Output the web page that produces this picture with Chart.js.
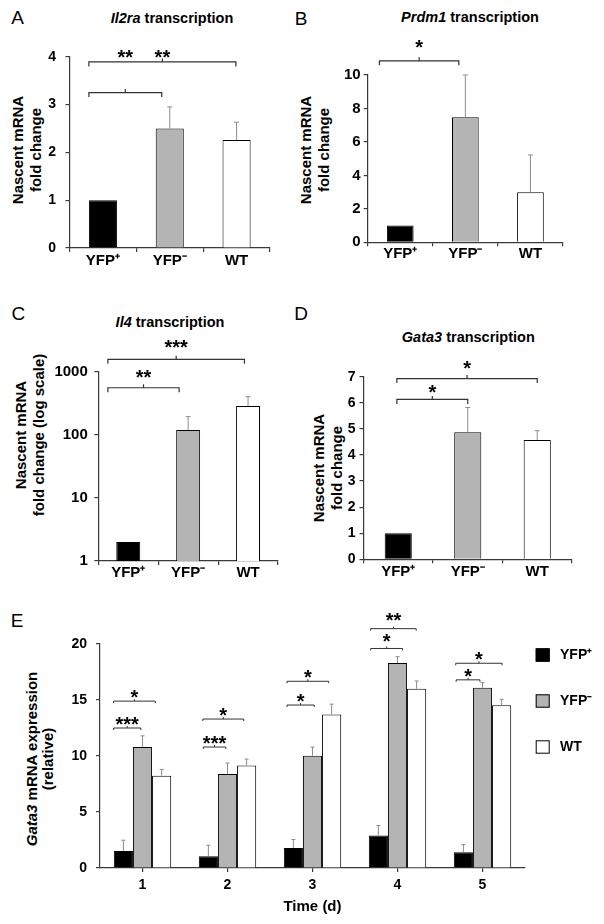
<!DOCTYPE html>
<html>
<head>
<meta charset="utf-8">
<script src="https://cdn.jsdelivr.net/npm/chart.js@4.4.1/dist/chart.umd.min.js"></script>
<style>
  body { margin: 0; background: #fff; }
  #page { position: relative; width: 604px; height: 924px; overflow: hidden; font-family: "Liberation Sans", Arial, sans-serif; color: #000; }
  canvas { position: absolute; }
  .let { position: absolute; font-size: 19px; line-height: 1; transform: translate(-50%, -50%); }
  .ttl { position: absolute; font-size: 14.5px; font-weight: bold; line-height: 1; white-space: nowrap; transform: translate(-50%, -50%); }
  .yt { position: absolute; font-size: 15px; font-weight: bold; line-height: 18px; text-align: center; white-space: nowrap; transform: translate(-50%, -50%) rotate(-90deg); }
</style>
</head>
<body>
<div id="page">
  <div class="let" style="left:17.5px;top:17px">A</div>
  <div class="let" style="left:301px;top:17.5px">B</div>
  <div class="let" style="left:18.3px;top:312.5px">C</div>
  <div class="let" style="left:301px;top:312.5px">D</div>
  <div class="let" style="left:17px;top:620px">E</div>

  <div class="ttl" style="left:172px;top:17.7px"><i>Il2ra</i> transcription</div>
  <div class="ttl" style="left:470px;top:16.7px"><i>Prdm1</i> transcription</div>
  <div class="ttl" style="left:170px;top:321.7px"><i>Il4</i> transcription</div>
  <div class="ttl" style="left:468.3px;top:336.7px"><i>Gata3</i> transcription</div>

  <div class="yt" style="left:26.5px;top:150px">Nascent mRNA<br>fold change</div>
  <div class="yt" style="left:314.5px;top:150px">Nascent mRNA<br>fold change</div>
  <div class="yt" style="left:29.5px;top:435px">Nascent mRNA<br>fold change (log scale)</div>
  <div class="yt" style="left:328px;top:468px">Nascent mRNA<br>fold change</div>
  <div class="yt" style="left:40px;top:759px;line-height:16px"><i>Gata3</i> mRNA expression<br>(relative)</div>

  <canvas id="cA"></canvas>
  <canvas id="cB"></canvas>
  <canvas id="cC"></canvas>
  <canvas id="cD"></canvas>
  <canvas id="cE"></canvas>
</div>
<script>
Chart.defaults.font.family = '"Liberation Sans", Arial, sans-serif';
Chart.defaults.color = '#000';

// categories
const groups = ['YFP⁺', 'YFP⁻', 'WT'];
const groupFill = ['#000000', '#b4b4b4', '#ffffff'];
const days = ['1', '2', '3', '4', '5'];

// A: Il2ra
const il2raMean = [1.0, 2.5, 2.26];
const il2raErr = [0, 0.45, 0.37];
const il2raTicks = [0, 1, 2, 3, 4];
const il2raBrackets = [[-0.21, 1.99, 3.89, '**', 4.08], [-0.21, 0.88, 3.25, '**', 4.08]];

// B: Prdm1
const prdm1Mean = [1.0, 7.47, 2.99];
const prdm1Err = [0, 2.53, 2.23];
const prdm1Ticks = [0, 2, 4, 6, 8, 10];
const prdm1Brackets = [[-0.32, 0.9, 10.85, '*', 11.9]];

// C: Il4 (log scale)
const il4Mean = [2, 119, 286];
const il4Err = [0, 75, 116];
const il4Ticks = [1, 10, 100, 1000];
const il4Brackets = [[-0.34, 1.94, 1572, '***', 2818], [-0.34, 0.85, 557, '**', 964]];

// D: Gata3
const gata3Mean = [1.0, 4.87, 4.57];
const gata3Err = [0, 0.95, 0.36];
const gata3Ticks = [0, 1, 2, 3, 4, 5, 6, 7];
const gata3Brackets = [[-0.02, 2.0, 6.93, '*', 7.48], [-0.02, 1.0, 6.13, '*', 6.55]];

// E: Gata3 time course
const yfpPos = [1.52, 1.04, 1.79, 2.9, 1.4];
const yfpPosErr = [0.96, 0.99, 0.75, 0.89, 0.69];
const yfpNeg = [10.8, 8.39, 10.03, 18.3, 16.1];
const yfpNegErr = [1.0, 0.98, 0.77, 0.57, 0.45];
const wtTime = [8.24, 9.16, 13.7, 16.0, 14.53];
const wtTimeErr = [0.56, 0.57, 0.93, 0.7, 0.53];
const timeTicks = [0, 5, 10, 15, 20];
const timeBrackets = [
  [-0.34, 0.15, 14.9, '*'], [-0.34, -0.02, 12.5, '***'],
  [0.71, 1.19, 13.3, '*'], [0.715, 0.98, 10.8, '***'],
  [1.7, 2.19, 16.67, '*'], [1.7, 2.02, 14.55, '*'],
  [2.685, 3.22, 21.37, '**', 22.5], [2.685, 3.06, 19.6, '*', 20.65],
  [3.685, 4.23, 18.28, '*'], [3.69, 3.97, 16.8, '*']
];

const axisColor = '#3a3a3a';

// error bars and significance brackets
const marks = {
  id: 'marks',
  afterDatasetsDraw(chart, args, o) {
    const { ctx } = chart;
    const x = chart.scales.x, y = chart.scales.y;
    ctx.save();
    ctx.strokeStyle = '#8c8c8c';
    ctx.lineWidth = 1;
    chart.data.datasets.forEach((ds, di) => {
      const meta = chart.getDatasetMeta(di);
      (ds.errors || []).forEach((e, i) => {
        if (!e) return;
        const bar = meta.data[i];
        const top = y.getPixelForValue(ds.data[i] + e);
        ctx.beginPath();
        ctx.moveTo(bar.x, bar.y);
        ctx.lineTo(bar.x, top);
        ctx.moveTo(bar.x - o.cap, top);
        ctx.lineTo(bar.x + o.cap, top);
        ctx.stroke();
      });
    });
    ctx.strokeStyle = '#333';
    ctx.lineWidth = o.lineWidth;
    ctx.fillStyle = '#000';
    ctx.font = 'bold ' + o.star + 'px "Liberation Sans", Arial, sans-serif';
    ctx.textAlign = 'center';
    ctx.textBaseline = 'alphabetic';
    o.brackets.forEach(b => {
      const x1 = x.getPixelForValue(b[0]);
      const x2 = x.getPixelForValue(b[1]);
      const py = y.getPixelForValue(b[2]);
      const cx = (x1 + x2) / 2;
      ctx.beginPath();
      ctx.moveTo(x1, py + o.drop);
      ctx.lineTo(x1, py);
      ctx.lineTo(x2, py);
      ctx.lineTo(x2, py + o.drop);
      ctx.moveTo(cx, py);
      ctx.lineTo(cx, py - o.rise);
      ctx.stroke();
      const ly = b[4] !== undefined ? y.getPixelForValue(b[4]) : py - o.gap;
      ctx.fillText(b[3], cx, ly + 0.55 * o.star);
    });
    ctx.restore();
  }
};

// legend at the right of panel E
const sideLegend = {
  id: 'sideLegend',
  afterDraw(chart, args, o) {
    const { ctx, chartArea } = chart;
    ctx.save();
    ctx.font = 'bold 14px "Liberation Sans", Arial, sans-serif';
    ctx.textBaseline = 'middle';
    ctx.textAlign = 'left';
    chart.data.datasets.forEach((ds, i) => {
      const bx = chartArea.right + o.dx;
      const by = chartArea.top + o.dy + i * o.step;
      ctx.fillStyle = ds.backgroundColor;
      ctx.fillRect(bx, by, o.w, o.h);
      ctx.strokeStyle = '#000';
      ctx.lineWidth = 1;
      ctx.strokeRect(bx + 0.5, by + 0.5, o.w - 1, o.h - 1);
      ctx.fillStyle = '#000';
      ctx.fillText(ds.label, bx + o.w + o.tx, by + o.h / 2);
    });
    ctx.restore();
  }
};

function makePanel(cfg) {
  const cv = document.getElementById(cfg.id);
  cv.width = cfg.box[2];
  cv.height = cfg.box[3];
  cv.style.left = cfg.box[0] + 'px';
  cv.style.top = cfg.box[1] + 'px';
  return new Chart(cv, {
    type: 'bar',
    data: { labels: cfg.labels, datasets: cfg.datasets },
    options: {
      responsive: false,
      animation: false,
      events: [],
      layout: { padding: { top: cfg.pad[0], right: cfg.pad[1], bottom: 0, left: 0 } },
      plugins: {
        legend: { display: false },
        tooltip: { enabled: false },
        marks: cfg.marks,
        sideLegend: cfg.legend
      },
      scales: {
        x: {
          offset: true,
          grid: { offset: cfg.xGridOffset !== false, drawOnChartArea: false, tickLength: 4, color: axisColor, lineWidth: 1.2 },
          border: { color: axisColor, width: 1.2 },
          ticks: { font: { size: cfg.xFont, weight: 'bold', lineHeight: 1 }, padding: cfg.xPad, color: '#000' },
          title: cfg.xTitle || { display: false },
          afterFit: s => { s.height = cfg.xh; }
        },
        y: {
          type: cfg.yType || 'linear',
          min: cfg.yTicks[0],
          max: cfg.yTicks[cfg.yTicks.length - 1],
          grid: { drawOnChartArea: false, tickLength: 4, color: axisColor, lineWidth: 1.2 },
          border: { color: axisColor, width: 1.2 },
          ticks: { font: { size: cfg.yFont, weight: 'bold' }, padding: cfg.yPad, color: '#000', callback: v => String(v) },
          afterBuildTicks: s => { s.ticks = cfg.yTicks.map(v => ({ value: v })); },
          afterFit: s => { s.width = cfg.yw; }
        }
      }
    },
    plugins: cfg.legend ? [marks, sideLegend] : [marks]
  });
}

function single(mean, err, pct) {
  return [{
    data: mean,
    errors: err,
    backgroundColor: groupFill,
    borderColor: '#000',
    borderWidth: 1,
    barPercentage: 1,
    categoryPercentage: pct
  }];
}

const bigMarks = { cap: 2.5, lineWidth: 1.2, drop: 4.5, rise: 3.5, gap: 15, star: 20 };

makePanel({
  id: 'cA', box: [20, 36, 262, 236], pad: [20.7, 12], yw: 49.5, xh: 24,
  labels: groups, datasets: single(il2raMean, il2raErr, 0.42),
  yTicks: il2raTicks, yFont: 14, yPad: 9.5, xFont: 15, xPad: 1.5,
  marks: Object.assign({ brackets: il2raBrackets }, bigMarks)
});

makePanel({
  id: 'cB', box: [318, 30, 257, 238], pad: [45, 12], yw: 49.7, xh: 25.7,
  labels: groups, datasets: single(prdm1Mean, prdm1Err, 0.41),
  yTicks: prdm1Ticks, yFont: 15, yPad: 3, xFont: 15, xPad: 0.5,
  marks: Object.assign({ brackets: prdm1Brackets }, bigMarks)
});

makePanel({
  id: 'cC', box: [48, 330, 242, 255], pad: [41.7, 12], yw: 50.3, xh: 24,
  labels: groups, datasets: single(il4Mean, il4Err, 0.4),
  yType: 'logarithmic', yTicks: il4Ticks, yFont: 15, yPad: 6.5, xFont: 15, xPad: 0,
  marks: Object.assign({ brackets: il4Brackets }, bigMarks)
});

makePanel({
  id: 'cD', box: [340, 350, 244, 235], pad: [26.7, 12], yw: 23.5, xh: 25.7,
  labels: groups, datasets: single(gata3Mean, gata3Err, 0.39),
  yTicks: gata3Ticks, yFont: 14, yPad: 4, xFont: 15, xPad: 1.5,
  marks: Object.assign({ brackets: gata3Brackets }, bigMarks)
});

const timeSets = [
  { label: 'YFP⁺', data: yfpPos, errors: yfpPosErr, backgroundColor: '#000000' },
  { label: 'YFP⁻', data: yfpNeg, errors: yfpNegErr, backgroundColor: '#b4b4b4' },
  { label: 'WT', data: wtTime, errors: wtTimeErr, backgroundColor: '#ffffff' }
].map(d => Object.assign(d, { borderColor: '#000', borderWidth: 1, barPercentage: 1, categoryPercentage: 0.675 }));

makePanel({
  id: 'cE', box: [50, 600, 554, 324], pad: [44, 79], yw: 50, xh: 56,
  labels: days, datasets: timeSets, xGridOffset: false,
  yTicks: timeTicks, yFont: 14, yPad: 9, xFont: 14, xPad: 6,
  xTitle: { display: true, text: 'Time (d)', font: { size: 15, weight: 'bold' }, padding: { top: 0, bottom: 8.5 }, color: '#000' },
  marks: { brackets: timeBrackets, cap: 2, lineWidth: 1, drop: 2, rise: 2, gap: 8, star: 20 },
  legend: { dx: 10.7, dy: 4.3, w: 14, h: 13.4, step: 46, tx: 10.3 }
});
</script>
</body>
</html>
